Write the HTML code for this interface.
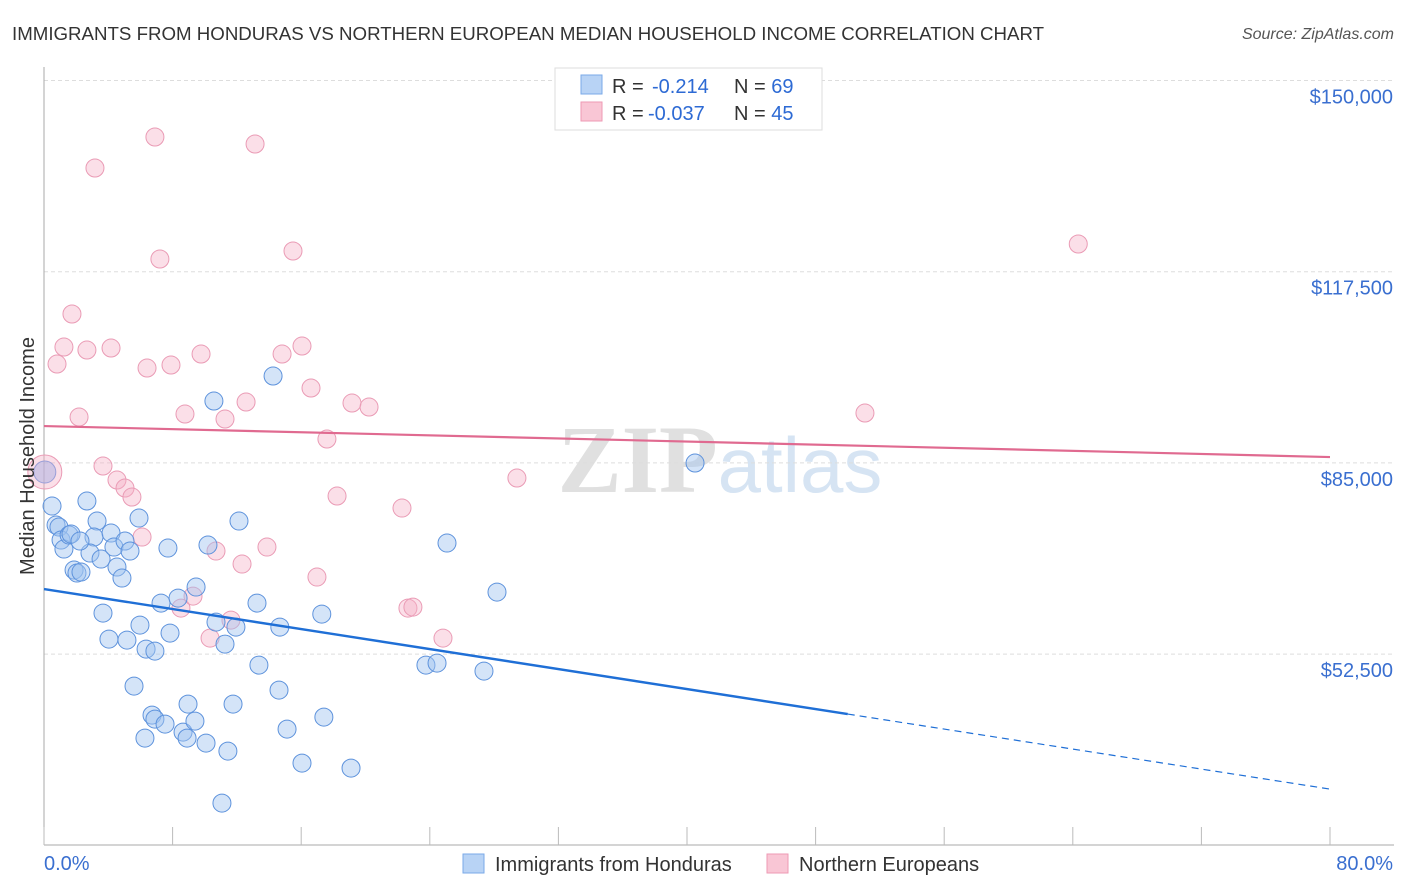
<!DOCTYPE html>
<html><head><meta charset="utf-8"><style>
body{margin:0;background:#fff;font-family:"Liberation Sans",sans-serif;}
svg{display:block}
</style></head><body>
<svg id="chart" width="1406" height="892" xmlns="http://www.w3.org/2000/svg">
<text x="12" y="40" font-size="18.7" fill="#333">IMMIGRANTS FROM HONDURAS VS NORTHERN EUROPEAN MEDIAN HOUSEHOLD INCOME CORRELATION CHART</text>
<text x="1394" y="39" font-size="16" fill="#555" font-style="italic" text-anchor="end">Source: ZipAtlas.com</text>
<text x="720" y="492" font-size="96" font-weight="bold" fill="#ddd" text-anchor="middle" font-family="Liberation Serif,serif"><tspan fill="#e0e0e0">ZIP</tspan><tspan fill="#d6e4f3" font-family="Liberation Sans,sans-serif" font-weight="normal" font-size="78">atlas</tspan></text>
<g id="grid"></g>
<g id="axes"></g>
<g id="marks"></g>
<text transform="translate(34,456) rotate(-90)" font-size="20" fill="#333" text-anchor="middle">Median Household Income</text>
<g>
<rect x="555" y="68" width="267" height="62" fill="#fff" stroke="#ddd"/>
<rect x="581" y="75" width="21" height="19" fill="#b8d3f5" stroke="#7aa9e8"/>
<rect x="581" y="102" width="21" height="19" fill="#f9c6d5" stroke="#ee9ab4"/>
<text x="612" y="93" font-size="20" fill="#333">R = <tspan x="652" fill="#2d6ad4">-0.214</tspan><tspan x="734">N = </tspan><tspan fill="#2d6ad4">69</tspan></text>
<text x="612" y="120" font-size="20" fill="#333">R = <tspan x="648" fill="#2d6ad4">-0.037</tspan><tspan x="734">N = </tspan><tspan fill="#2d6ad4">45</tspan></text>
</g>
<g>
<rect x="463" y="854" width="21" height="19" fill="#b8d3f5" stroke="#7aa9e8"/>
<text x="495" y="871" font-size="20" fill="#333">Immigrants from Honduras</text>
<rect x="767" y="854" width="21" height="19" fill="#f9c6d5" stroke="#ee9ab4"/>
<text x="799" y="871" font-size="20" fill="#333">Northern Europeans</text>
</g>
</svg>
<script>
const yTicks=[150000,117500,85000,52500];
const yTickLabels=["$150,000","$117,500","$85,000","$52,500"];
const xTicks=[0,8,16,24,32,40,48,56,64,72,80];
const blueX=[0.50,0.75,0.93,1.06,1.24,1.56,1.68,2.67,3.30,3.11,2.86,2.24,1.87,2.05,2.30,3.55,4.17,4.35,4.54,5.04,4.85,5.35,5.91,3.67,4.04,5.16,5.97,6.35,6.90,7.71,7.28,7.84,8.34,9.46,10.20,10.70,12.13,11.26,11.94,13.25,14.67,17.28,13.37,25.07,28.18,23.76,24.45,27.37,40.50,14.25,10.57,5.60,6.72,6.90,7.53,8.65,8.96,9.39,8.90,6.28,10.08,11.44,11.76,14.62,15.12,17.41,16.05,19.10,11.07];
const blueY=[77665,74435,74095,71885,70355,72735,72905,78515,75115,72395,69675,71715,66785,66275,66445,68655,73075,70695,67295,71715,65425,70015,75625,59475,55055,54885,57435,53355,53015,70525,61175,56075,62025,63895,71035,57945,75115,54205,57095,61175,57095,59305,50635,71375,63045,50635,50975,49615,84975,99765,95515,47065,42135,41455,40605,39245,44005,41115,38225,38225,37375,36015,44005,46385,39755,41795,33975,33125,27175];
const pinkX=[3.17,6.90,13.13,7.21,15.49,64.34,1.74,0.81,1.24,2.67,4.17,6.41,7.90,9.77,14.81,16.05,16.61,2.18,8.77,11.26,12.57,19.16,20.22,51.07,17.60,3.67,4.54,5.04,5.47,18.23,22.27,29.42,6.10,10.70,12.32,13.87,16.98,8.52,9.27,11.63,10.33,22.64,22.95,24.82,0.05];
const pinkY=[135125,140395,139205,119655,121015,122205,110305,101805,104695,104185,104525,101125,101635,103505,103505,104865,97725,92795,93305,92455,95345,95175,94495,93475,89055,84465,82085,80725,79195,79365,77325,82425,72395,70015,67805,70695,65595,60325,62365,58285,55225,60325,60495,55225,83445];
const blueTrend=[0,63555,50.0,42305];
const pinkTrend=[0,91265,80,85995];
const X0=44,X1=1330,Y0=80.5,PXV=191.2/32500;
const xs=v=>X0+(X1-X0)*v/80;
const ys=v=>Y0+(150000-v)*PXV;
const NS="http://www.w3.org/2000/svg";
function mk(t,a,p){const e=document.createElementNS(NS,t);for(const k in a)e.setAttribute(k,a[k]);p.appendChild(e);return e;}
const grid=document.getElementById('grid'),axes=document.getElementById('axes'),marks=document.getElementById('marks');
yTicks.forEach((v,i)=>{
 const l=mk('line',{x1:X0,x2:1394,y1:ys(v),y2:ys(v),stroke:'#ddd','stroke-dasharray':'4,3'},grid);
 
 
 const t=mk('text',{x:1393,y:ys(v)+23,'font-size':20,fill:'#3a6fd0','text-anchor':'end'},axes);
 t.textContent=yTickLabels[i];
 
 
});
const ya=mk('line',{x1:X0,x2:X0,y1:67,y2:845,stroke:'#aaa'},axes);


const xa=mk('line',{x1:X0,x2:1394,y1:845,y2:845,stroke:'#aaa'},axes);


xTicks.forEach(v=>{
 const t=mk('line',{x1:xs(v),x2:xs(v),y1:827,y2:845,stroke:'#bbb'},axes);
 
 
});
const xl0=mk('text',{x:44,y:870,'font-size':20,fill:'#3a6fd0'},axes);xl0.textContent='0.0%';


const xl1=mk('text',{x:1393,y:870,'font-size':20,fill:'#3a6fd0','text-anchor':'end'},axes);xl1.textContent='80.0%';


pinkX.forEach((x,i)=>{
 const big=i===pinkX.length-1;
 const c=mk('circle',{cx:xs(x),cy:ys(pinkY[i]),r:big?17:9,fill:'rgba(246,175,198,0.4)',stroke:'#ea9bb5','stroke-width':1},marks);
 
 
});
blueX.forEach((x,i)=>{
 const c=mk('circle',{cx:xs(x),cy:ys(blueY[i]),r:9,fill:'rgba(160,196,240,0.45)',stroke:'#5d92dc','stroke-width':1},marks);
 
 
});
const bigB=mk('circle',{cx:xs(0.05),cy:ys(83445),r:11,fill:'rgba(170,175,225,0.5)',stroke:'#9a9fd8'},marks);


const pl=mk('line',{x1:xs(pinkTrend[0]),y1:ys(pinkTrend[1]),x2:xs(pinkTrend[2]),y2:ys(pinkTrend[3]),stroke:'#e06a90','stroke-width':2.2},marks);


const bl=mk('line',{x1:xs(blueTrend[0]),y1:ys(blueTrend[1]),x2:xs(blueTrend[2]),y2:ys(blueTrend[3]),stroke:'#1f6fd6','stroke-width':2.4},marks);


const slope=(blueTrend[3]-blueTrend[1])/(blueTrend[2]-blueTrend[0]);
const bd=mk('line',{x1:xs(blueTrend[2]),y1:ys(blueTrend[3]),x2:xs(80),y2:ys(blueTrend[1]+slope*80),stroke:'#1f6fd6','stroke-width':1.2,'stroke-dasharray':'7,5'},marks);


</script>
</body></html>
